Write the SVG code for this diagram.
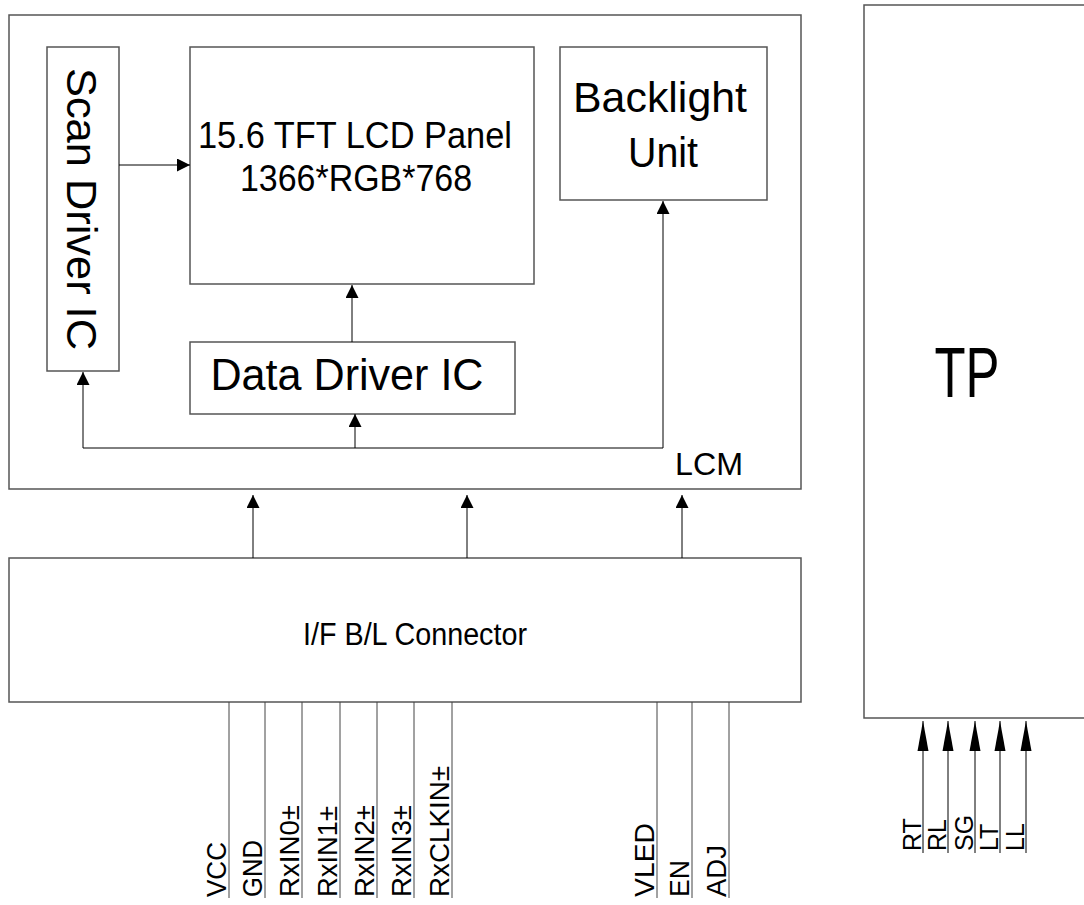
<svg xmlns="http://www.w3.org/2000/svg" width="1084" height="905" viewBox="0 0 1084 905">
<style>
.box{fill:#fff;stroke:#555;stroke-width:1.5}
.ln{fill:none;stroke:#000;stroke-width:1}
.pin{fill:none;stroke:#444;stroke-width:1}
text{font-family:"Liberation Sans",Arial,sans-serif;fill:#000}
.pl{font-size:28px}
.tl{font-size:25px}
</style>
<defs>
<marker id="arr" markerUnits="userSpaceOnUse" markerWidth="13" markerHeight="13" refX="13" refY="6.5" orient="auto"><path d="M0,0 L13,6.5 L0,13 z" fill="#000"/></marker>
<marker id="arrL" markerUnits="userSpaceOnUse" markerWidth="30" markerHeight="12" refX="30" refY="6" orient="auto"><path d="M0,0.5 L30,6 L0,11.5 z" fill="#000"/></marker>
</defs>
<rect width="1084" height="905" fill="#fff"/>
<g id="lcm"><rect class="box" x="9" y="15" width="792" height="474"/><text x="675" y="475" font-size="31" textLength="68" lengthAdjust="spacingAndGlyphs">LCM</text></g>
<g id="scan"><rect class="box" x="47" y="47" width="72" height="324"/><text transform="translate(67,209) rotate(90)" text-anchor="middle" font-size="42" textLength="282" lengthAdjust="spacingAndGlyphs">Scan Driver IC</text></g>
<g id="panel"><rect class="box" x="190" y="47" width="344" height="237"/><text x="355" y="148" text-anchor="middle" font-size="36" textLength="314" lengthAdjust="spacingAndGlyphs">15.6 TFT LCD Panel</text><text x="356" y="191" text-anchor="middle" font-size="36" textLength="232" lengthAdjust="spacingAndGlyphs">1366*RGB*768</text></g>
<g id="backlight"><rect class="box" x="560" y="47" width="207" height="153"/><text x="660" y="112" text-anchor="middle" font-size="42" textLength="174" lengthAdjust="spacingAndGlyphs">Backlight</text><text x="663" y="167" text-anchor="middle" font-size="42" textLength="70" lengthAdjust="spacingAndGlyphs">Unit</text></g>
<g id="data"><rect class="box" x="190" y="342" width="325" height="72"/><text x="347" y="390" text-anchor="middle" font-size="45" textLength="273" lengthAdjust="spacingAndGlyphs">Data Driver IC</text></g>
<g id="connector"><rect class="box" x="9" y="558" width="792" height="144"/><text x="415" y="645" text-anchor="middle" font-size="31" textLength="224" lengthAdjust="spacingAndGlyphs">I/F B/L Connector</text></g>
<g id="tp"><rect class="box" x="864" y="5" width="230" height="713"/><text x="967" y="397" text-anchor="middle" font-size="70" textLength="65" lengthAdjust="spacingAndGlyphs">TP</text></g>
<g id="connectors">
<line class="ln" x1="119" y1="165" x2="190" y2="165" marker-end="url(#arr)"/>
<line class="ln" x1="352" y1="342" x2="352" y2="285" marker-end="url(#arr)"/>
<path class="ln" d="M663,448 L83,448 L83,372" marker-end="url(#arr)"/>
<line class="ln" x1="355" y1="448" x2="355" y2="414" marker-end="url(#arr)"/>
<line class="ln" x1="663" y1="448" x2="663" y2="201" marker-end="url(#arr)"/>
<line class="ln" x1="253" y1="558" x2="253" y2="495" marker-end="url(#arr)"/>
<line class="ln" x1="467" y1="558" x2="467" y2="495" marker-end="url(#arr)"/>
<line class="ln" x1="682" y1="558" x2="682" y2="495" marker-end="url(#arr)"/>
<line class="ln" x1="923" y1="853" x2="923" y2="721" marker-end="url(#arrL)"/>
<line class="ln" x1="948" y1="853" x2="948" y2="721" marker-end="url(#arrL)"/>
<line class="ln" x1="975" y1="853" x2="975" y2="721" marker-end="url(#arrL)"/>
<line class="ln" x1="1000" y1="853" x2="1000" y2="721" marker-end="url(#arrL)"/>
<line class="ln" x1="1026" y1="853" x2="1026" y2="721" marker-end="url(#arrL)"/>
<g class="pin">
<line x1="229" y1="702" x2="229" y2="898"/><line x1="265" y1="702" x2="265" y2="898"/><line x1="302" y1="702" x2="302" y2="898"/><line x1="340" y1="702" x2="340" y2="898"/><line x1="377" y1="702" x2="377" y2="898"/><line x1="414" y1="702" x2="414" y2="898"/><line x1="452" y1="702" x2="452" y2="898"/>
<line x1="657" y1="702" x2="657" y2="898"/><line x1="692" y1="702" x2="692" y2="898"/><line x1="729" y1="702" x2="729" y2="898"/>
</g>
</g>
<g id="pinlabels">
<text class="pl" transform="translate(226,897) rotate(-90)" textLength="55" lengthAdjust="spacingAndGlyphs">VCC</text>
<text class="pl" transform="translate(262,897) rotate(-90)" textLength="57" lengthAdjust="spacingAndGlyphs">GND</text>
<text class="pl" transform="translate(299,897) rotate(-90)" textLength="92" lengthAdjust="spacingAndGlyphs">RxIN0±</text>
<text class="pl" transform="translate(337,897) rotate(-90)" textLength="91" lengthAdjust="spacingAndGlyphs">RxIN1±</text>
<text class="pl" transform="translate(374,897) rotate(-90)" textLength="92" lengthAdjust="spacingAndGlyphs">RxIN2±</text>
<text class="pl" transform="translate(411,897) rotate(-90)" textLength="92" lengthAdjust="spacingAndGlyphs">RxIN3±</text>
<text class="pl" transform="translate(449,897) rotate(-90)" textLength="131" lengthAdjust="spacingAndGlyphs">RxCLKIN±</text>
<text class="pl" transform="translate(654,897) rotate(-90)" textLength="74" lengthAdjust="spacingAndGlyphs">VLED</text>
<text class="pl" transform="translate(689,897) rotate(-90)" textLength="37" lengthAdjust="spacingAndGlyphs">EN</text>
<text class="pl" transform="translate(726,897) rotate(-90)" textLength="52" lengthAdjust="spacingAndGlyphs">ADJ</text>
<text class="tl" transform="translate(921,851) rotate(-90)">RT</text>
<text class="tl" transform="translate(946,851) rotate(-90)">RL</text>
<text class="tl" transform="translate(973,851) rotate(-90)">SG</text>
<text class="tl" transform="translate(998,851) rotate(-90)">LT</text>
<text class="tl" transform="translate(1024,851) rotate(-90)">LL</text>
</g>
</svg>
